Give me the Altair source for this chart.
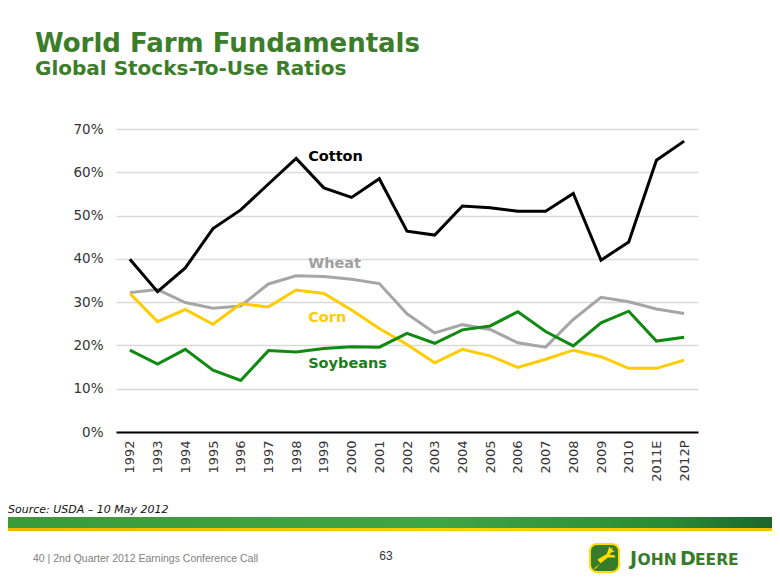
import altair as alt
import pandas as pd

years = ["1992", "1993", "1994", "1995", "1996", "1997", "1998", "1999", "2000", "2001",
         "2002", "2003", "2004", "2005", "2006", "2007", "2008", "2009", "2010", "2011E", "2012P"]
cotton = [39.9, 32.4, 37.9, 47.0, 51.3, 57.3, 63.2, 56.4, 54.2, 58.5, 46.4, 45.5, 52.2, 51.8, 51.0, 51.0, 55.1, 39.7, 43.9, 62.8, 67.2]
wheat = [32.2, 32.9, 29.9, 28.6, 29.1, 34.2, 36.1, 35.9, 35.3, 34.3, 27.3, 22.9, 24.8, 23.7, 20.6, 19.6, 26.0, 31.1, 30.1, 28.4, 27.4]
corn = [32.0, 25.5, 28.3, 24.9, 29.6, 28.9, 32.8, 32.0, 28.2, 23.9, 20.2, 16.0, 19.1, 17.6, 14.9, 16.8, 18.9, 17.4, 14.7, 14.7, 16.6]
soybeans = [18.9, 15.7, 19.1, 14.3, 11.9, 18.8, 18.5, 19.3, 19.7, 19.6, 22.8, 20.5, 23.6, 24.5, 27.8, 23.2, 19.9, 25.2, 27.9, 21.0, 21.9]

series_names = ["Wheat", "Corn", "Soybeans", "Cotton"]
series_colors = ["#a6a6a6", "#ffcc00", "#108a10", "#000000"]
label_colors = ["#a0a0a0", "#ffcc00", "#1a7f1a", "#000000"]
label_values = [38.9, 26.4, 15.8, 63.5]
label_year = "1998"

rows = []
for name, vals in zip(series_names, [wheat, corn, soybeans, cotton]):
    for i, (y, v) in enumerate(zip(years, vals)):
        rows.append({"year": y, "series": name, "value": v / 100, "order": i})
df = pd.DataFrame(rows)

labels_df = pd.DataFrame({"series": series_names, "value": [v / 100 for v in label_values],
                          "year": [label_year] * 4, "lc": label_colors})

W, H = 582, 303
OX, OY = 116, 129  # page position of plot origin

xscale = alt.Scale(type="point", padding=0.5, domain=years)
yscale = alt.Scale(domain=[0, 0.7])

lines = alt.Chart(df).mark_line(strokeWidth=3).encode(
    x=alt.X("year:N", scale=xscale, sort=years,
            axis=alt.Axis(title=None, labelAngle=270, labelPadding=8, ticks=False,
                          domainColor="#000000", domainWidth=2, labelFontSize=13,
                          labelFont="DejaVu Sans", labelColor="#333333", grid=False)),
    y=alt.Y("value:Q", scale=yscale,
            axis=alt.Axis(title=None, format=".0%", values=[0, 0.1, 0.2, 0.3, 0.4, 0.5, 0.6, 0.7],
                          domain=False, ticks=False, labelPadding=13, labelFontSize=13.5,
                          labelFont="DejaVu Sans", labelColor="#333333",
                          gridColor="#d9d9d9", gridWidth=1.5)),
    color=alt.Color("series:N", scale=alt.Scale(domain=series_names, range=series_colors), legend=None),
    detail="series:N",
    order="order:Q",
)

labels = alt.Chart(labels_df).mark_text(align="left", baseline="middle", dx=12, fontSize=14.5,
                                        fontWeight="bold", font="DejaVu Sans").encode(
    x=alt.X("year:N", scale=xscale),
    y=alt.Y("value:Q", scale=yscale),
    text="series:N",
    color=alt.Color("lc:N", scale=None),
)


def txt(text, x, y, size, color, weight="normal", style="normal", font="DejaVu Sans", align="left"):
    return alt.Chart(pd.DataFrame({"t": [text]})).mark_text(
        align=align, baseline="alphabetic", fontSize=size, color=color, fontWeight=weight,
        fontStyle=style, font=font).encode(x=alt.value(x - OX), y=alt.value(y - OY), text="t:N")


def rect(x1, x2, y1, y2, **kw):
    return alt.Chart(pd.DataFrame({"a": [0]})).mark_rect(**kw).encode(
        x=alt.value(x1 - OX), x2=alt.value(x2 - OX), y=alt.value(y1 - OY), y2=alt.value(y2 - OY))


green_grad = alt.LinearGradient(gradient="linear", x1=0, x2=1, y1=0, y2=0, stops=[
    alt.GradientStop(color="#3a9a38", offset=0),
    alt.GradientStop(color="#3fa645", offset=0.55),
    alt.GradientStop(color="#2a8a35", offset=0.85),
    alt.GradientStop(color="#17602a", offset=1),
])
yellow_grad = alt.LinearGradient(gradient="linear", x1=0, x2=1, y1=0, y2=0, stops=[
    alt.GradientStop(color="#f2b300", offset=0),
    alt.GradientStop(color="#ffd200", offset=0.6),
    alt.GradientStop(color="#f0c000", offset=1),
])

title1 = txt("World Farm Fundamentals", 35, 52, 26, "#3b7d28", weight="bold")
title2 = txt("Global Stocks-To-Use Ratios", 35, 75, 20, "#3b7d28", weight="bold")
source = txt("Source: USDA \u2013 10 May 2012", 8, 513, 11, "#111111", style="italic")
bar = rect(0, 790, 517, 528, color=green_grad)
ybar = rect(0, 790, 528, 531, color=yellow_grad)
footer = txt("40  |  2nd Quarter 2012 Earnings Conference Call", 33, 562, 10.5, "#808080", font="Liberation Sans")
page = txt("63", 386, 560, 12, "#333333", font="Liberation Sans", align="center")

logo_box = rect(590, 619, 544, 572, color="#367c2b", stroke="#ffde00", strokeWidth=2, cornerRadius=7)
deer_path = ("M0.45,-1 L0.55,-0.8 L0.72,-0.95 L0.66,-0.7 L0.9,-0.6 L0.6,-0.48 L0.42,-0.3 "
             "L0.9,-0.22 L0.95,-0.05 L0.3,-0.05 L-0.2,0.35 L-0.95,0.95 L-0.78,0.95 "
             "L-0.35,0.45 L-0.62,0.15 L-0.4,0 L0.2,-0.35 L0.33,-0.72 Z")
deer = alt.Chart(pd.DataFrame({"a": [0]})).mark_point(
    shape=deer_path, filled=True, color="#ffde00", opacity=1, size=520).encode(
    x=alt.value(604.5 - OX), y=alt.value(558 - OY))

jd_color = "#367c2b"
j1 = txt("J", 630, 565, 19, jd_color, weight="bold")
j2 = txt("OHN", 637.5, 565, 15.5, jd_color, weight="bold")
d1 = txt("D", 680, 565, 19, jd_color, weight="bold")
d2 = txt("EERE", 695, 565, 15.5, jd_color, weight="bold")

chart = alt.layer(
    lines, labels, title1, title2, source, bar, ybar, footer, page, logo_box, deer, j1, j2, d1, d2
).properties(
    width=W, height=H, autosize=alt.AutoSizeParams(type="none"),
    padding={"left": 108, "top": 121, "right": 74, "bottom": 145},
    background="white",
).configure_view(stroke=None)

chart.save("out.html", embed_options={"renderer": "svg", "actions": False})
